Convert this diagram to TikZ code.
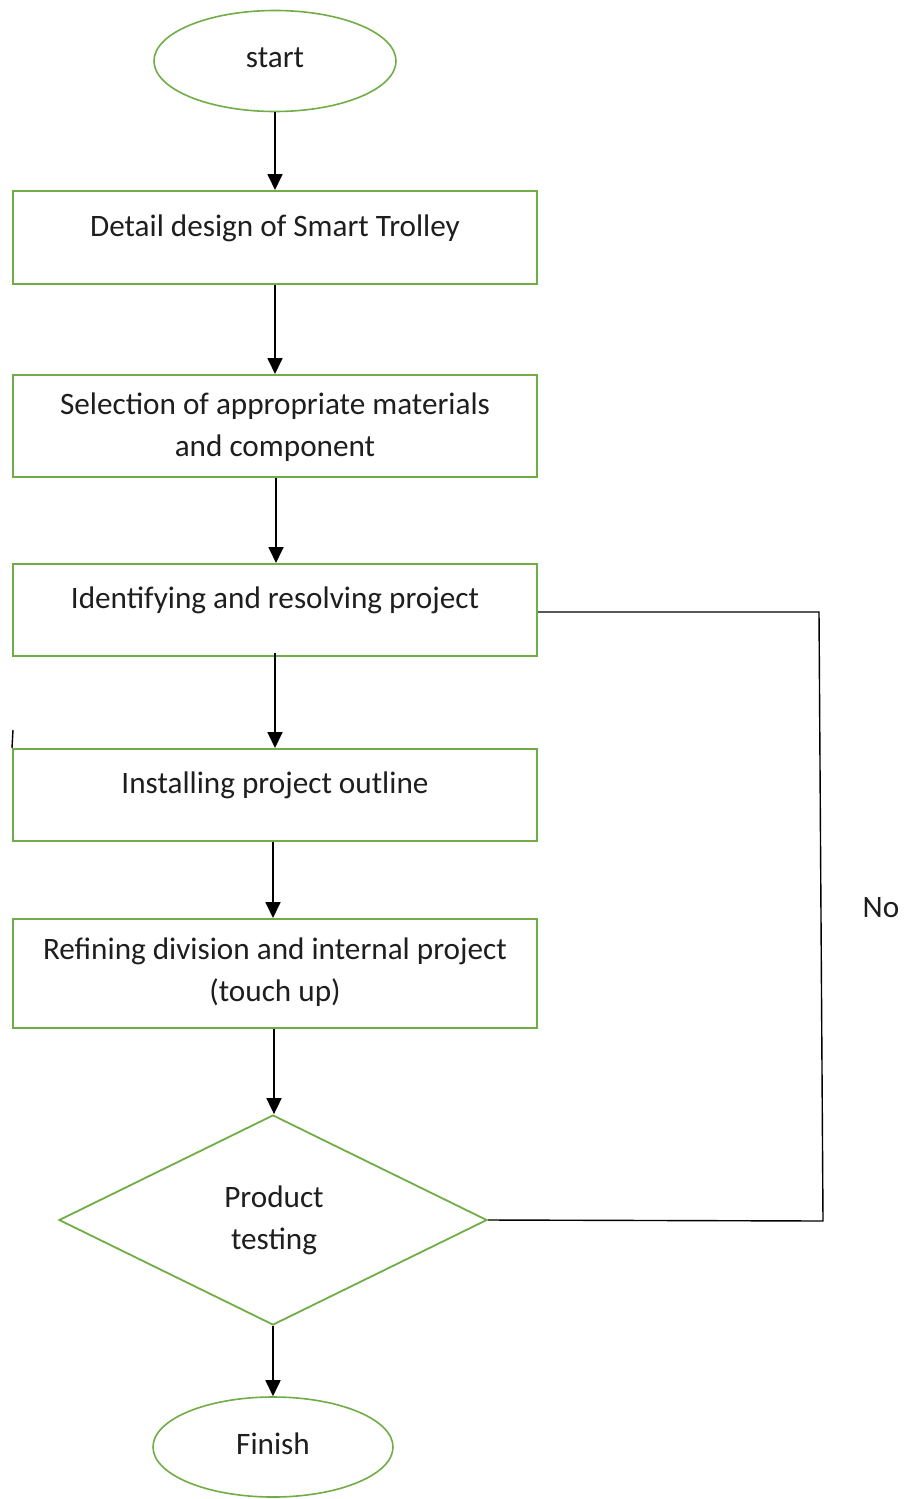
\documentclass[tikz,border=0pt]{standalone}
\usepackage{fontspec}
\setmainfont{Carlito}
\usetikzlibrary{shapes.geometric,arrows.meta}
\definecolor{fgreen}{RGB}{112,173,71}
\definecolor{tgray}{RGB}{30,30,30}
\tikzset{
  flowbox/.style={draw=fgreen,line width=2pt,minimum width=524pt,minimum height=#1,inner sep=0pt},
  oval/.style={draw=fgreen,line width=1.6pt,ellipse,minimum width=242pt,minimum height=101pt,inner sep=0pt},
  txt/.style={font=\fontsize{31.2}{42}\selectfont,text=tgray,align=center,inner sep=0pt},
  flow/.style={draw=black,line width=1.8pt,-{Triangle[length=16pt,width=15pt]}},
  fb/.style={draw=black,line width=1.4pt},
}
\begin{document}
\begin{tikzpicture}[x=1pt,y=-1pt]
\useasboundingbox (0,0) rectangle (908,1499);
% shapes
\node[oval] (start) at (275,61) {};
\node[txt] (tstart) at (275,58) {start};
\node[flowbox=93pt] (b1) at (275,237.5) {};
\node[txt] (t1) at (275,228) {Detail design of Smart Trolley};
\node[flowbox=102pt] (b2) at (275,426) {};
\node[txt] (t2) at (275,427) {Selection of appropriate materials\\and component};
\node[flowbox=92pt] (b3) at (275,610) {};
\node[txt] (t3) at (275,600) {Identifying and resolving project};
\node[flowbox=92pt] (b4) at (275,795) {};
\node[txt] (t4) at (275,785) {Installing project outline};
\node[flowbox=109pt] (b5) at (275,973.5) {};
\node[txt] (t5) at (275,972) {Refining division and internal project\\(touch up)};
\node[draw=fgreen,line width=1.8pt,diamond,minimum width=428pt,minimum height=210pt,inner sep=0pt] (d) at (273,1220) {};
\node[txt] (td) at (274,1220) {Product\\testing};
\node[oval,minimum width=240pt,minimum height=100pt] (fin) at (273,1447) {};
\node[txt] (tfin) at (273,1444) {Finish};
\node[txt] (no) at (881,908) {No};
% connectors
\draw[flow] (start.south) -- (b1.north);
\draw[flow] (b1.south) -- (b2.north);
\draw[flow] ([xshift=1pt]b2.south) -- ([xshift=1pt]b3.north);
\draw[flow] ([yshift=4pt]b3.south) -- (b4.north);
\draw[flow] ([xshift=-2pt]b4.south) -- ([xshift=-2pt]b5.north);
\draw[flow] ([xshift=-1pt]b5.south) -- ([xshift=1pt]d.north);
\draw[flow] (d.south) -- (fin.north);
\coordinate (c1) at (823,1221);
\coordinate (c2) at (819,612);
\draw[fb] (d.east) -- (c1) -- (c2) -- (b3.east |- c2);
\coordinate (k1) at (13,730);
\draw[fb] (k1) -- (b4.north west);
\end{tikzpicture}
\end{document}
